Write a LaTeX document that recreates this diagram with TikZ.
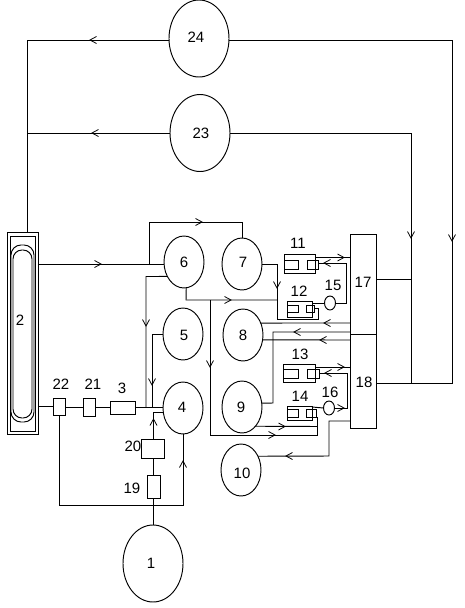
\documentclass[tikz,border=0pt]{standalone}
\usepackage{fontspec}
\setmainfont{Liberation Sans}
\usetikzlibrary{shapes.geometric}
\tikzset{
  every path/.style={line width=0.95pt},
  ell/.style={draw,ellipse,inner sep=0pt,outer sep=0pt,minimum width=#1},
  c40/.style={ell=40pt,minimum height=52pt},
  c60/.style={ell=60pt,minimum height=77pt},
  c12/.style={ell=11pt,minimum height=14pt},
  box/.style={draw,rectangle,inner sep=0pt,outer sep=0pt},
  lab/.style={inner sep=0pt,font=\fontsize{15}{15}\selectfont},
  chev/.style={line width=0.8pt}
}
\newcommand{\chv}[3]{\draw[chev,shift={(#1,#2)},rotate=#3] (-6.5pt,-3.5pt)--(0pt,0pt)--(-6.5pt,3.5pt);}
\newcommand{\rbox}[5]{\node[box,minimum width=#4pt-#2pt,minimum height=#5pt-#3pt] (#1) at ({(#2+#4)/2},{(#3+#5)/2}) {};}
\begin{document}
\begin{tikzpicture}[x=1pt,y=-1pt]
\useasboundingbox (0,0) rectangle (464,608);
% circles
\node[c40] (c6) at (184,262) {};
\node[c40] (c5) at (183,334) {};
\node[c40] (c4) at (183,408) {};
\node[c40] (c7) at (242,264) {};
\node[c40] (c8) at (243,335) {};
\node[c40] (c9) at (242,407) {};
\node[c40] (c10) at (241,470) {};
\node[c60] (c1) at (153,563.5) {};
\node[c60] (c23) at (200,133) {};
\node[c60] (c24) at (199,38.5) {};
\node[c12] (c15) at (330,303) {};
\node[c12] (c16) at (329,408) {};
% boxes
\rbox{b2}{7}{232}{38}{434}
\rbox{b2i}{10}{236}{35}{431}
\draw[rounded corners=10pt] (11,245) rectangle (34,422);
\draw[rounded corners=9pt] (13,250) rectangle (32,418);
\rbox{b22}{53}{398}{65}{415}
\rbox{b21}{83}{398}{95.5}{416.5}
\rbox{b3}{110}{401}{135.5}{414}
\rbox{b20}{141}{439}{164}{458}
\rbox{b19}{147}{475}{160}{498}
\rbox{b17}{350}{234}{376}{334}
\rbox{b18}{350}{334}{376}{428}
\rbox{b11}{284}{254}{315}{273}
\rbox{b11a}{284}{260}{298}{269}
\rbox{b11b}{307}{260}{318}{269}
\rbox{b12}{287}{301}{312}{317}
\rbox{b12a}{287}{305}{298}{312}
\rbox{b12b}{306}{305}{314}{312}
\rbox{b13}{283}{364}{315}{382.5}
\rbox{b13a}{283}{369}{298}{378}
\rbox{b13b}{307}{369}{319}{378}
\rbox{b14}{287}{406}{312}{420}
\rbox{b14a}{287}{409}{298}{417}
\rbox{b14b}{306}{409}{316}{417}
% top loops
\draw (c24.west |- 0,40) -- (27,40) -- (b2.north -| 27,0);
\draw (c23.west) -- (27,133);
\draw (c24.east |- 0,40) -- (452,40) -- (452,383) -- (b18.east |- 0,383);
\draw (c23.east) -- (411,133) -- (411,383);
\draw (b17.east |- 0,279) -- (411,279);
\chv{90}{40}{180}\chv{92}{133}{180}\chv{452}{241}{-90}\chv{411}{238}{-90}
% plant to 6 and 7
\draw (b2.east |- 0,264) -- (c6.west |- 0,264);
\draw (149,264) -- (149,222) -- (242,222) -- (c7.north);
\chv{101}{264}{0}\chv{202}{222}{0}
% left side to 4
\draw (c6.221) -- (146,276.5) -- (146,407);
\draw (c5.west) -- (152,334) -- (152,407);
\chv{146}{326}{-90}\chv{152}{385}{-90}
\draw (b2.east |- 0,406) -- (b22.west |- 0,406);
\draw (b22.east |- 0,407) -- (b21.west |- 0,407);
\draw (b21.east |- 0,407) -- (b3.west |- 0,407);
\draw (b3.east |- 0,407) -- (c4.west |- 0,407);
\draw (c4.west |- 0,412) -- (153.5,412) -- (b20.north -| 153.5,0);
\draw (b20.south -| 153.5,0) -- (b19.north -| 153.5,0);
\draw (b19.south -| 153.5,0) -- (c1.north -| 153.5,0);
\draw (b22.south) -- (59,505) -- (183,505) -- (c4.south);
\chv{153.5}{419}{90}\chv{183}{461}{90}
% 6 bottom
\draw (c6.-85.6) -- (186,300) -- (277,300);
\draw (210,300) -- (210,435) -- (317,435) -- (b14b.south -| 317,0);
\chv{231}{300}{0}\chv{210}{367}{-90}\chv{275}{435}{0}
% 7 to 12
\draw (c7.east) -- (277,264) -- (277,319) -- (318,319) -- (318,308) -- (b12b.east |- 0,308);
\chv{277}{288}{-90}
% 11, 15
\draw (b11.east |- 0,257.5) -- (b17.west |- 0,257.5);
\chv{344}{257.5}{0}
\draw (c15.east) -- (346,303) -- (346,263) -- (b11b.east |- 0,263);
\chv{324}{263}{180}
\draw (b12.east |- 0,303) -- (c15.west);
% 8
\draw (c8.34.1) -- (b17.west |- 0,323);
\draw (b18.west |- 0,332) -- (273,332) -- (273,403) -- (c9.11.4);
\draw (c8.-14.3) -- (b18.west |- 0,340);
\chv{324}{323}{180}\chv{294}{332}{180}\chv{320}{340}{180}
% 13, 16
\draw (b13.east |- 0,367) -- (b18.west |- 0,367);
\chv{344}{367}{0}
\draw (c16.east) -- (347,408) -- (347,373) -- (b13b.east |- 0,373);
\chv{325}{373}{180}\chv{344}{408}{0}
\draw (b14.east |- 0,407) -- (c16.west);
% 9
\draw (c9.-55.9) -- (317,426.5);
\chv{285}{426.5}{0}
% 18 to 10
\draw (b18.west |- 0,421) -- (329,421) -- (329,456) -- (c10.39.6);
\chv{286}{456}{180}
% labels
\node[lab] (t2) at (20,320) {2};
\node[lab] (t22) at (61,384) {22};
\node[lab] (t21) at (93,384) {21};
\node[lab] (t3) at (122,388) {3};
\node[lab] (t6) at (184,262) {6};
\node[lab] (t5) at (184,335) {5};
\node[lab] (t4) at (182,407) {4};
\node[lab] (t20) at (133,446) {20};
\node[lab] (t19) at (132,488) {19};
\node[lab] (t7) at (243,262) {7};
\node[lab] (t11) at (298,243) {11};
\node[lab] (t12) at (299,291) {12};
\node[lab] (t15) at (333,285) {15};
\node[lab] (t17) at (363,282) {17};
\node[lab] (t8) at (243,335) {8};
\node[lab] (t13) at (300,354) {13};
\node[lab] (t14) at (300,396) {14};
\node[lab] (t16) at (330,392) {16};
\node[lab] (t18) at (364,382) {18};
\node[lab] (t9) at (241,407) {9};
\node[lab] (t10) at (242,473) {10};
\node[lab] (t1) at (151,563) {1};
\node[lab] (t23) at (201,133) {23};
\node[lab] (t24) at (196,37) {24};
\end{tikzpicture}
\end{document}
